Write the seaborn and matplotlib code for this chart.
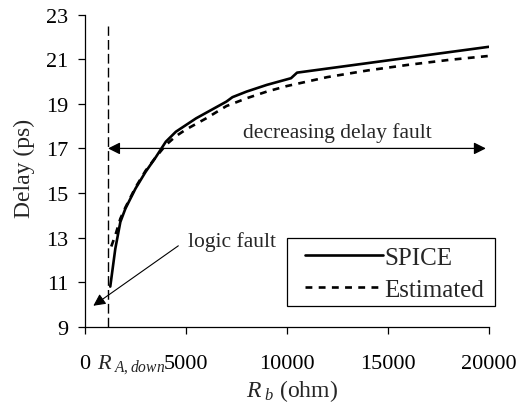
import matplotlib
matplotlib.use("Agg")
import matplotlib.pyplot as plt
from matplotlib.patches import Rectangle
import seaborn as sns
import pandas as pd

# SPICE simulated delay vs bridge resistance
spice_r = [1250, 1500, 1750, 2000, 2500, 3000, 3500, 4000, 4500, 5000, 5500,
           6000, 6500, 7000, 7300, 8000, 9000, 10000, 10200, 10500, 15000, 20000]
spice_delay = [10.8, 12.5, 13.7, 14.3, 15.2, 15.95, 16.6, 17.3, 17.75, 18.05, 18.35,
               18.6, 18.85, 19.1, 19.3, 19.55, 19.85, 20.1, 20.15, 20.4, 20.95, 21.56]

# estimated delay
est_r = [1300, 1500, 1750, 2000, 2500, 3000, 3500, 4000, 4500, 5000, 6000, 7000,
         8000, 9000, 10000, 11000, 12000, 14000, 16000, 18000, 20000]
est_delay = [12.6, 13.1, 13.85, 14.35, 15.25, 16.0, 16.6, 17.15, 17.55, 17.85, 18.35, 18.9,
             19.25, 19.55, 19.8, 20.0, 20.2, 20.5, 20.75, 20.97, 21.15]

r_a_down = 1140
x_ticks = [0, 5000, 10000, 15000, 20000]
x_ticklabels = ["0", "5000", "10000", "15000", "20000"]
y_ticks = [9, 11, 13, 15, 17, 19, 21, 23]

sns.set_style("ticks")
plt.rcParams["font.family"] = ["Liberation Serif", "DejaVu Serif"]
plt.rcParams["mathtext.fontset"] = "custom"
plt.rcParams["mathtext.rm"] = "Liberation Serif"
plt.rcParams["mathtext.it"] = "Liberation Serif:italic"
plt.rcParams["font.size"] = 16

fig = plt.figure(figsize=(5.32, 4.10), dpi=100)
ax = fig.add_axes([0.1598, 0.2007, 0.919 - 0.1598, 0.9617 - 0.2007])

spice = pd.DataFrame({"r": spice_r, "delay": spice_delay})
est = pd.DataFrame({"r": est_r, "delay": est_delay})

sns.lineplot(data=spice, x="r", y="delay", ax=ax, color="black", lw=1.9,
             label="SPICE")
sns.lineplot(data=est, x="r", y="delay", ax=ax, color="black", lw=1.9,
             label="Estimated")
ax.lines[1].set_dashes([2.6, 2.4])

# vertical line at R_A,down
ax.plot([r_a_down, r_a_down], [9, 22.5], color="black", lw=1.0, dashes=[7, 3])

ax.set_xlim(0, 20000)
ax.set_ylim(9, 23)
ax.set_xticks(x_ticks)
ax.set_xticklabels(x_ticklabels)
ax.set_yticks(y_ticks)
ax.tick_params(axis="x", length=5, width=0.9, pad=15, labelsize=16, colors="black")
ax.tick_params(axis="y", length=5, width=0.9, pad=7, labelsize=16, colors="black")
for s in ["left", "bottom"]:
    ax.spines[s].set_linewidth(0.9)
    ax.spines[s].set_color("black")
sns.despine(ax=ax)

ax.set_xlabel(r"$R_{\ b}$ (ohm)", fontsize=17, labelpad=0)
ax.xaxis.set_label_coords(0.512, -0.16)
ax.set_ylabel("Delay (ps)", fontsize=17)
ax.yaxis.set_label_coords(-0.125, 0.51)

ax.annotate(r"$R_{\ A,down}$", xy=(600, -0.13), xycoords=("data", "axes fraction"),
            ha="left", va="baseline", fontsize=16)

# decreasing delay fault double arrow
ax.annotate("", xy=(r_a_down, 17), xytext=(19850, 17),
            arrowprops=dict(arrowstyle="<|-|>", color="black", lw=0.9,
                            mutation_scale=18, shrinkA=0, shrinkB=0))
ax.text(12500, 17.75, "decreasing delay fault", ha="center", va="center", fontsize=15.5)

# logic fault arrow
ax.annotate("", xy=(411, 9.94), xytext=(4620, 12.63),
            arrowprops=dict(arrowstyle="-|>", color="black", lw=0.8,
                            mutation_scale=18, shrinkA=0, shrinkB=0))
ax.text(7300, 12.85, "logic fault", ha="center", va="center", fontsize=15.5)

leg = ax.legend(loc="upper left", bbox_to_anchor=(0.556, 0.4175),
                bbox_transform=fig.transFigure, frameon=False, fontsize=18,
                handlelength=3.15, handletextpad=0.05, borderpad=0.35,
                labelspacing=0.38, borderaxespad=0)
# legend box drawn wider than matplotlib's own frame
fig.patches.append(Rectangle((0.5395, 0.2512), 0.391, 0.1659, transform=fig.transFigure,
                             fill=False, edgecolor="black", lw=0.9))

fig.savefig("out.png", dpi=100)
plt.close(fig)
